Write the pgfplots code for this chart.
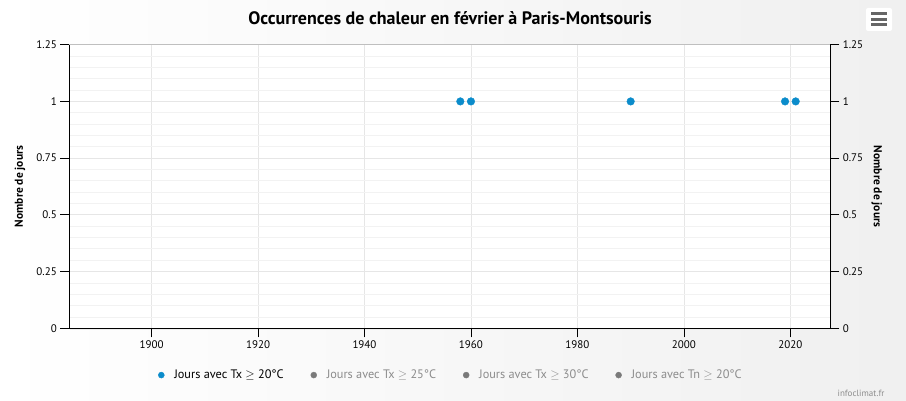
\documentclass[border=0pt]{standalone}
\usepackage{pgfplots}
\pgfplotsset{compat=1.18}
\usepackage{fontspec}
\setmainfont{PT Sans}
\definecolor{ptblue}{HTML}{0B8CCB}
\definecolor{majgrid}{HTML}{E6E6E6}
\definecolor{mingrid}{HTML}{F2F2F2}
\definecolor{lgtext}{HTML}{8C8C8C}
\definecolor{lgmark}{HTML}{7A7A7A}
\definecolor{iconbar}{HTML}{666666}
\begin{document}
\begin{tikzpicture}[x=1pt,y=1pt]
\shade[left color=white,right color=black!6] (0,0) rectangle (906,400);
\fill[black!7] (70.3,70.2) rectangle (831.8,354.3);
\node[font=\bfseries\fontsize{18}{21}\selectfont] at (450,382) {Occurrences de chaleur en février à Paris-Montsouris};
% menu icon
\fill[white, rounded corners=2pt] (866,369) rectangle (892,392);
\foreach \yy in {375,380.5,386} {\fill[iconbar] (871,\yy-1.5) rectangle (887,\yy+1.5);}
\node[font=\fontsize{9}{11}\selectfont, text=lgtext, anchor=east] at (888,7) {infoclimat.fr};

\pgfplotsset{common/.style={
  at={(69.3pt,71.7pt)}, anchor=south west,
  scale only axis, width=761pt, height=283.6pt,
  xmin=1884.55, xmax=2027.5, ymin=0, ymax=1.25,
  ytick={0,0.25,0.5,0.75,1,1.25},
  tick align=outside, major tick length=9pt,
  /pgf/number format/assume math mode=true,
  /pgf/number format/1000 sep={},
  tick style={black, line width=0.8pt},
  ticklabel style={font=\fontsize{11}{13}\selectfont},
  label style={font=\bfseries\fontsize{11.5}{13}\selectfont},
}}

\begin{axis}[common,
  axis background/.style={fill=white},
  axis x line*=bottom, axis y line*=left,
  axis line style={black, line width=0.9pt},
  xtick={1900,1920,...,2020},
  minor y tick num=4, minor tick length=0pt,
  grid=both,
  major grid style={majgrid, line width=0.8pt},
  minor grid style={mingrid, line width=0.8pt},
  ylabel={Nombre de jours},
  ylabel style={at={(axis description cs:-0.0648,0.5)}, anchor=center},
  legend columns=4,
  legend style={at={(axis description cs:0.5016,-0.165)}, anchor=center,
    draw=none, fill=none, font=\fontsize{12.3}{14}\selectfont,
    /tikz/every even column/.append style={column sep=25pt},
    /tikz/every odd column/.append style={column sep=8pt}},
  legend image code/.code={\draw[mark repeat=2,mark phase=2,#1] plot coordinates {(0pt,0pt)(5pt,0pt)(10pt,0pt)};},
]
\draw[black!25, line width=0.8pt] (rel axis cs:0,1) -- (rel axis cs:1,1);
\addlegendimage{only marks, mark=*, mark size=3pt, color=ptblue}
\addlegendentry{Jours avec Tx $\geq$ 20°C}
\addlegendimage{only marks, mark=*, mark size=3pt, color=lgmark}
\addlegendentry{\textcolor{lgtext}{Jours avec Tx $\geq$ 25°C}}
\addlegendimage{only marks, mark=*, mark size=3pt, color=lgmark}
\addlegendentry{\textcolor{lgtext}{Jours avec Tx $\geq$ 30°C}}
\addlegendimage{only marks, mark=*, mark size=3pt, color=lgmark}
\addlegendentry{\textcolor{lgtext}{Jours avec Tn $\geq$ 20°C}}
\addplot[forget plot, only marks, mark=*, mark size=3.8pt, color=ptblue] coordinates {
(1958,1) (1960,1) (1990,1) (2019,1) (2021,1)};
\end{axis}

\begin{axis}[common,
  axis x line=none, axis y line*=right,
  axis line style={black, line width=0.9pt},
  ylabel={Nombre de jours},
  ylabel style={at={(axis description cs:1.061,0.5)}, anchor=center, rotate=180},
]
\addplot[draw=none] coordinates {(1900,0)};
\end{axis}
\end{tikzpicture}
\end{document}
